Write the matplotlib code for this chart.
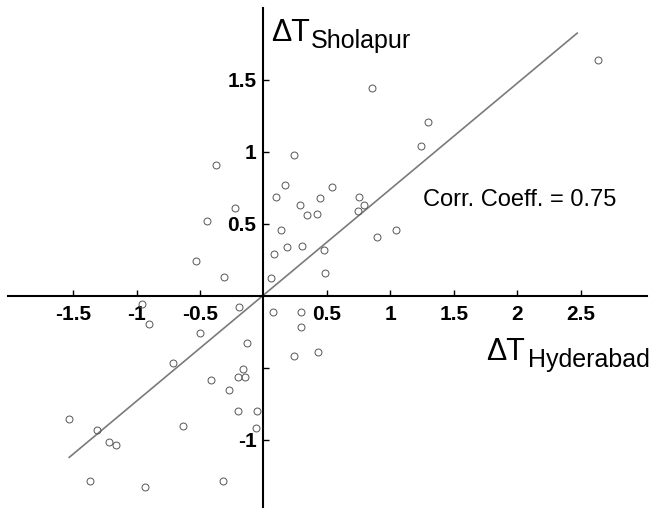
import numpy as np
import matplotlib
matplotlib.use('Agg')
import matplotlib.pyplot as plt

plt.rcParams['font.family'] = ['Liberation Sans', 'DejaVu Sans']
plt.rcParams['axes.unicode_minus'] = False

# Temperature anomalies
dT_hyd = [1.238, 0.243, 0.169, 0.101, 0.542, 0.290, 0.445, 0.340, 0.421, 0.752,
          0.794, 0.741, 0.138, 0.894, 1.046, 0.182, 0.303, 0.083, 0.474, 0.057,
          0.482, 0.852, 2.631, 1.298,
          -0.372, -0.222, -0.443, -0.533, -0.313,
          -0.192, -0.959, -0.900, -0.503, -0.131, -0.714, -0.160, -0.198, -0.149,
          -0.413, -0.273, -0.201, -0.052, -0.057, -0.636, -1.533, -1.313, -1.219,
          -1.161, -1.366, -0.933, -0.321,
          0.072, 0.293, 0.293, 0.240, 0.432]
dT_sho = [1.041, 0.978, 0.770, 0.689, 0.758, 0.628, 0.677, 0.559, 0.568, 0.689,
          0.631, 0.589, 0.459, 0.410, 0.459, 0.341, 0.348, 0.288, 0.318, 0.125,
          0.160, 1.447, 1.637, 1.208,
          0.909, 0.609, 0.519, 0.239, 0.132,
          -0.079, -0.056, -0.197, -0.260, -0.329, -0.465, -0.510, -0.562, -0.563,
          -0.586, -0.658, -0.800, -0.802, -0.920, -0.908, -0.858, -0.932, -1.017,
          -1.040, -1.289, -1.330, -1.289,
          -0.111, -0.111, -0.220, -0.419, -0.389]

# regression line end points
fit_x = [-1.53, 2.47]
fit_y = [-1.124, 1.825]

xticks = [-1.5, -1, -0.5, 0.5, 1, 1.5, 2, 2.5]
xticklabels = ['-1.5', '-1', '-0.5', '0.5', '1', '1.5', '2', '2.5']
yticks = [-1, -0.5, 0.5, 1, 1.5]
yticklabels = ['-1', '', '0.5', '1', '1.5']
corr_text = 'Corr. Coeff. = 0.75'

W, H = 650, 508
fig = plt.figure(figsize=(W / 100, H / 100), dpi=100)
ax = fig.add_axes([8 / W, 0, (647 - 8) / W, (H - 8) / H])

ax.plot(fit_x, fit_y, '-', color='#7a7a7a', lw=1.2, zorder=2)
ax.plot(dT_hyd, dT_sho, 'o', ms=5, mfc='none', mec='#555555', mew=0.7, zorder=3)

ax.set_xlim(-2.012, 3.02)
ax.set_ylim(-1.476, 2.0)

# axes crossing at the origin
for s in ['top', 'right']:
    ax.spines[s].set_visible(False)
ax.spines['left'].set_position(('data', 0))
ax.spines['bottom'].set_position(('data', 0))
ax.spines['left'].set_linewidth(1.5)
ax.spines['bottom'].set_linewidth(1.5)

ax.set_xticks(xticks, labels=xticklabels, fontsize=15, fontweight='bold')
ax.set_yticks(yticks, labels=yticklabels, fontsize=15, fontweight='bold')
ax.tick_params(axis='x', direction='in', length=4, width=1, pad=7)
ax.tick_params(axis='y', direction='in', length=4, width=1, pad=5)

# axis labels: big delta-T with a lowered subscript
def px(x, y):
    return x / W, 1 - y / H

fig.text(*px(271, 41), 'ΔT', fontsize=22, ha='left', va='baseline')
fig.text(*px(311, 48), 'Sholapur', fontsize=18, ha='left', va='baseline')
fig.text(*px(486, 360), 'ΔT', fontsize=22, ha='left', va='baseline')
fig.text(*px(528, 367), 'Hyderabad', fontsize=18, ha='left', va='baseline')

fig.text(*px(423, 206), corr_text, fontsize=17, ha='left', va='baseline')

plt.savefig('out.png', dpi=100, facecolor='white')
